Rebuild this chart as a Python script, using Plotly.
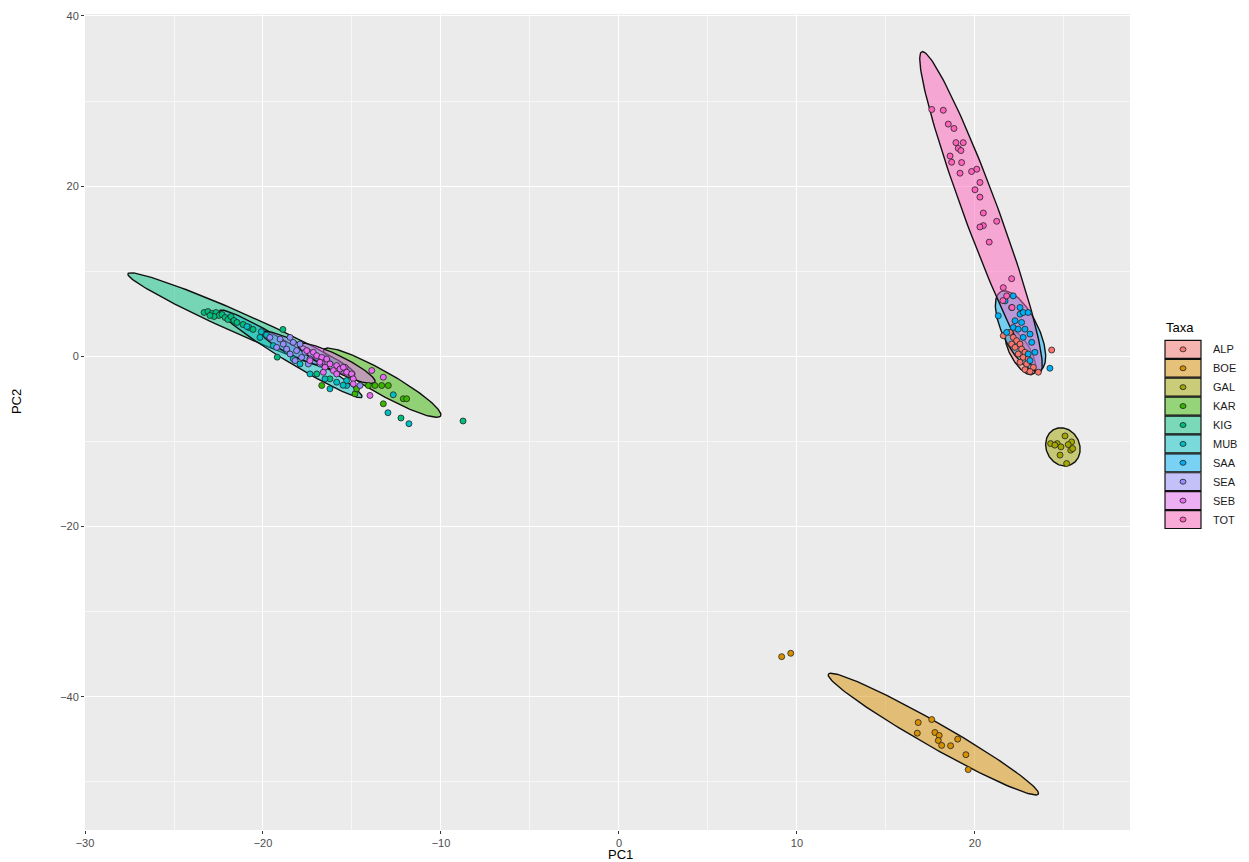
import numpy as np
import plotly.graph_objects as go

# ---------------- data ----------------
taxa = ["ALP", "BOE", "GAL", "KAR", "KIG", "MUB", "SAA", "SEA", "SEB", "TOT"]
colors = ["#F8766D", "#D89000", "#A3A500", "#39B600", "#00BF7D",
          "#00BFC4", "#00B0F6", "#9590FF", "#E76BF3", "#FF62BC"]

alp_x = [21.59, 21.97, 22.15, 22.34, 22.53, 22.06, 22.25, 22.62, 22.81, 22.43,
         22.71, 22.99, 22.53, 22.90, 23.28, 23.56, 24.31, 22.81, 23.09]
alp_y = [2.42, 2.81, 2.22, 1.84, 1.44, 1.44, 1.05, 0.85, 0.47, 0.27,
         -0.12, -0.32, -0.70, -0.90, -1.29, -1.87, 0.74, -1.56, -1.79]

boe_x = [9.14, 9.65, 16.81, 17.57, 16.76, 17.75, 17.99, 17.94, 18.13, 18.63, 19.03, 19.49, 19.62]
boe_y = [-35.30, -34.90, -43.04, -42.69, -44.29, -44.21, -44.56, -45.15, -45.73, -45.77,
         -44.99, -46.82, -48.57]

gal_x = [24.25, 24.62, 25.06, 25.43, 24.83, 25.24, 24.49, 25.38, 24.78, 25.15, 25.49]
gal_y = [-10.26, -10.26, -9.36, -10.06, -10.64, -10.37, -10.44, -11.03, -11.61, -12.60, -10.84]

kar_x = [-14.08, -13.71, -13.33, -12.96, -12.12, -11.93, -13.24, -14.83, -15.02, -14.74, -16.70]
kar_y = [-3.43, -3.43, -3.43, -3.43, -4.99, -4.99, -5.58, -4.41, -2.26, -3.82, -3.43]

kig_x = [-23.31, -23.09, -22.87, -22.64, -22.47, -22.30, -22.13, -22.75, -21.97, -21.80,
         -21.63, -21.46, -22.98, -21.12, -20.79, -20.56, -19.20, -18.88, -16.98, -16.24,
         -8.76, -12.25]
kig_y = [5.15, 5.26, 5.03, 5.15, 4.80, 4.91, 4.56, 4.68, 4.33, 4.68,
         4.21, 3.98, 4.80, 3.74, 3.39, 3.16, -0.10, 3.16, -2.07, -2.65,
         -7.60, -7.25]

mub_x = [-20.90, -20.10, -20.17, -19.80, -19.42, -18.67, -18.30, -17.92, -17.36, -16.52,
         -15.86, -15.30, -16.24, -15.30, -15.50, -12.68, -12.98, -11.80]
mub_y = [3.50, 2.90, 2.22, 2.50, 1.25, 0.67, -0.30, -0.90, -2.07, -2.65,
         -3.04, -3.43, -3.82, -2.85, -3.40, -4.52, -6.63, -7.92]

saa_x = [21.69, 22.15, 22.06, 22.53, 22.71, 22.99, 22.25, 22.62, 22.15, 22.43, 22.81,
         21.78, 23.09, 22.71, 23.19, 22.99, 23.37, 23.09, 24.21, 21.31, 22.53]
saa_y = [6.51, 7.10, 5.73, 4.95, 5.15, 5.15, 4.18, 3.98, 3.39, 3.19, 3.19,
         2.81, 2.61, 2.22, 1.64, 0.27, 0.47, -0.50, -1.40, 4.76, 5.73]

sea_x = [-19.61, -19.04, -18.48, -18.30, -17.92, -18.86, -19.23, -18.67, -18.11, -17.64,
         -18.48, -17.83, -17.36, -16.98, -18.20, -17.45, -16.80, -14.55]
sea_y = [2.22, 2.02, 2.22, 1.64, 1.44, 1.44, 1.05, 0.85, 0.67, 0.47,
         0.27, -0.12, -0.32, -0.12, -0.50, -0.90, -0.90, -3.43]

seb_x = [-17.54, -17.17, -16.98, -16.70, -16.42, -17.36, -16.80, -16.24, -15.86, -16.52,
         -15.67, -15.39, -16.05, -15.30, -15.02, -16.61, -15.86, -14.93, -13.89, -13.24,
         -14.93, -13.99, -15.49]
seb_y = [0.67, 0.47, 0.08, -0.12, -0.32, -0.50, -0.70, -0.90, -1.09, -1.29,
         -1.49, -1.29, -1.67, -1.87, -2.07, -1.87, -2.07, -2.65, -1.67, -2.46,
         -3.24, -4.60, -1.29]

tot_x = [17.57, 18.22, 18.50, 18.82, 18.93, 19.34, 19.06, 19.21, 18.60, 18.69, 19.25,
         19.16, 19.81, 20.10, 20.28, 20.00, 20.28, 20.47, 20.47, 21.22, 20.28, 20.80,
         22.06, 21.59, 21.78, 22.08, 21.57]
tot_y = [29.01, 28.92, 27.29, 26.78, 25.11, 25.11, 24.44, 24.18, 23.54, 22.81, 22.77,
         21.52, 21.72, 21.99, 20.43, 19.57, 18.71, 16.84, 15.36, 15.87, 15.20, 13.42,
         9.12, 8.07, 7.10, 5.73, 6.55]

points_x = [alp_x, boe_x, gal_x, kar_x, kig_x, mub_x, saa_x, sea_x, seb_x, tot_x]
points_y = [alp_y, boe_y, gal_y, kar_y, kig_y, mub_y, saa_y, sea_y, seb_y, tot_y]

# 95% ellipses: centre, major half-axis vector, minor/major ratio
ell_cx = [22.56, 17.66, 24.94, -13.30, -21.21, -18.43, 22.56, -18.29, -15.87, 20.34]
ell_cy = [0.47, -44.40, -10.64, -3.10, 3.80, 0.29, 2.98, 0.94, -0.82, 16.96]
ell_ux = [-0.70, -5.90, 0.45, 3.28, -6.38, 3.99, -1.10, 1.77, 2.16, -3.32]
ell_uy = [2.57, 7.05, -2.10, -3.90, 5.91, -5.09, 4.62, -1.87, -2.22, 18.84]
ell_ratio = [0.40, 0.10, 0.85, 0.17, 0.085, 0.10, 0.40, 0.20, 0.19, 0.10]

x_range = [-30.0, 28.71]
y_range = [-55.67, 40.23]
x_ticks = [-30, -20, -10, 0, 10, 20]
y_ticks = [-40, -20, 0, 20, 40]

# ---------------- layout geometry ----------------
W, H = 1249, 862
ML, MR, MT, MB = 85, 119, 10, 32
PW, PH = W - ML - MR, H - MT - MB
sx = PW / (x_range[1] - x_range[0])
sy = PH / (y_range[1] - y_range[0])


def rgba(hexc, a):
    h = hexc.lstrip("#")
    return "rgba(%d,%d,%d,%.2f)" % (int(h[0:2], 16), int(h[2:4], 16), int(h[4:6], 16), a)


def ellipse(cx, cy, ux, uy, r, n=161):
    t = np.linspace(0, 2 * np.pi, n)
    vx = -r * uy * sy / sx
    vy = r * ux * sx / sy
    return cx + ux * np.cos(t) + vx * np.sin(t), cy + uy * np.cos(t) + vy * np.sin(t)


fig = go.Figure()

for i, name in enumerate(taxa):
    ex, ey = ellipse(ell_cx[i], ell_cy[i], ell_ux[i], ell_uy[i], ell_ratio[i])
    fig.add_trace(go.Scatter(
        x=ex, y=ey, mode="lines", fill="toself",
        fillcolor=rgba(colors[i], 0.5),
        line=dict(color="#111111", width=1.4),
        name=name, showlegend=False, hoverinfo="skip"))

for i, name in enumerate(taxa):
    fig.add_trace(go.Scatter(
        x=points_x[i], y=points_y[i], mode="markers", name=name,
        marker=dict(size=6, color=colors[i], line=dict(color="#222222", width=0.8)),
        showlegend=False))

# ---------------- manual ggplot-style legend ----------------
def px2paper_x(px):
    return (px - ML) / PW


def py2paper_y(py):
    return (H - MB - py) / PH


shapes = []
annotations = []
key_x0, key_x1 = 1165, 1201
row_top, row_h = 338, 19
for i, name in enumerate(taxa):
    y0 = row_top + i * row_h
    y1 = y0 + row_h - 1
    shapes.append(dict(type="rect", xref="paper", yref="paper",
                       x0=px2paper_x(key_x0), x1=px2paper_x(key_x1),
                       y0=py2paper_y(y1), y1=py2paper_y(y0),
                       fillcolor="#F2F2F2", line=dict(width=0), layer="above"))
    shapes.append(dict(type="rect", xref="paper", yref="paper",
                       x0=px2paper_x(key_x0), x1=px2paper_x(key_x1),
                       y0=py2paper_y(y1), y1=py2paper_y(y0),
                       fillcolor=rgba(colors[i], 0.5),
                       line=dict(color="#111111", width=1.2), layer="above"))
    cxp = px2paper_x((key_x0 + key_x1) / 2)
    cyp = py2paper_y((y0 + y1) / 2)
    shapes.append(dict(type="circle", xref="paper", yref="paper",
                       xsizemode="pixel", ysizemode="pixel",
                       xanchor=cxp, yanchor=cyp, x0=-3, x1=3, y0=-2.5, y1=2.5,
                       fillcolor=colors[i], line=dict(color="#222222", width=0.8),
                       layer="above"))
    annotations.append(dict(text=name, xref="paper", yref="paper",
                            x=px2paper_x(1211), y=cyp, xanchor="left", yanchor="middle",
                            showarrow=False, font=dict(size=11, color="#1A1A1A")))

annotations.append(dict(text="Taxa", xref="paper", yref="paper",
                        x=px2paper_x(1164), y=py2paper_y(325), xanchor="left",
                        yanchor="middle", showarrow=False,
                        font=dict(size=13, color="#000000")))
annotations.append(dict(text="PC1", xref="paper", yref="paper",
                        x=px2paper_x(620), y=py2paper_y(855), xanchor="center",
                        yanchor="middle", showarrow=False,
                        font=dict(size=13, color="#000000")))
annotations.append(dict(text="PC2", xref="paper", yref="paper",
                        x=px2paper_x(16), y=py2paper_y(400), xanchor="center",
                        yanchor="middle", showarrow=False, textangle=-90,
                        font=dict(size=13, color="#000000")))

axis_common = dict(
    showgrid=True, gridcolor="#FFFFFF", gridwidth=1.4, zeroline=False,
    ticks="outside", ticklen=3, tickwidth=1, tickcolor="#333333",
    tickfont=dict(size=11, color="#4D4D4D"), showline=False,
)

fig.update_layout(
    width=W, height=H,
    margin=dict(l=ML, r=MR, t=MT, b=MB),
    paper_bgcolor="#FFFFFF", plot_bgcolor="#EBEBEB",
    font=dict(family="Liberation Sans, Arial, sans-serif"),
    showlegend=False,
    shapes=shapes, annotations=annotations,
    xaxis=dict(range=x_range, tickvals=x_ticks,
               minor=dict(dtick=5, tick0=0, showgrid=True, gridcolor="#F7F7F7",
                          gridwidth=0.7, ticks=""),
               **axis_common),
    yaxis=dict(range=y_range, tickvals=y_ticks,
               minor=dict(dtick=10, tick0=0, showgrid=True, gridcolor="#F7F7F7",
                          gridwidth=0.7, ticks=""),
               **axis_common),
)

fig.write_html(
    "out.html",
    config={"displayModeBar": False},
    post_script="document.body.style.margin='0';document.body.style.padding='0';"
                "document.body.style.overflow='hidden';window.scrollTo(0,0);",
)
